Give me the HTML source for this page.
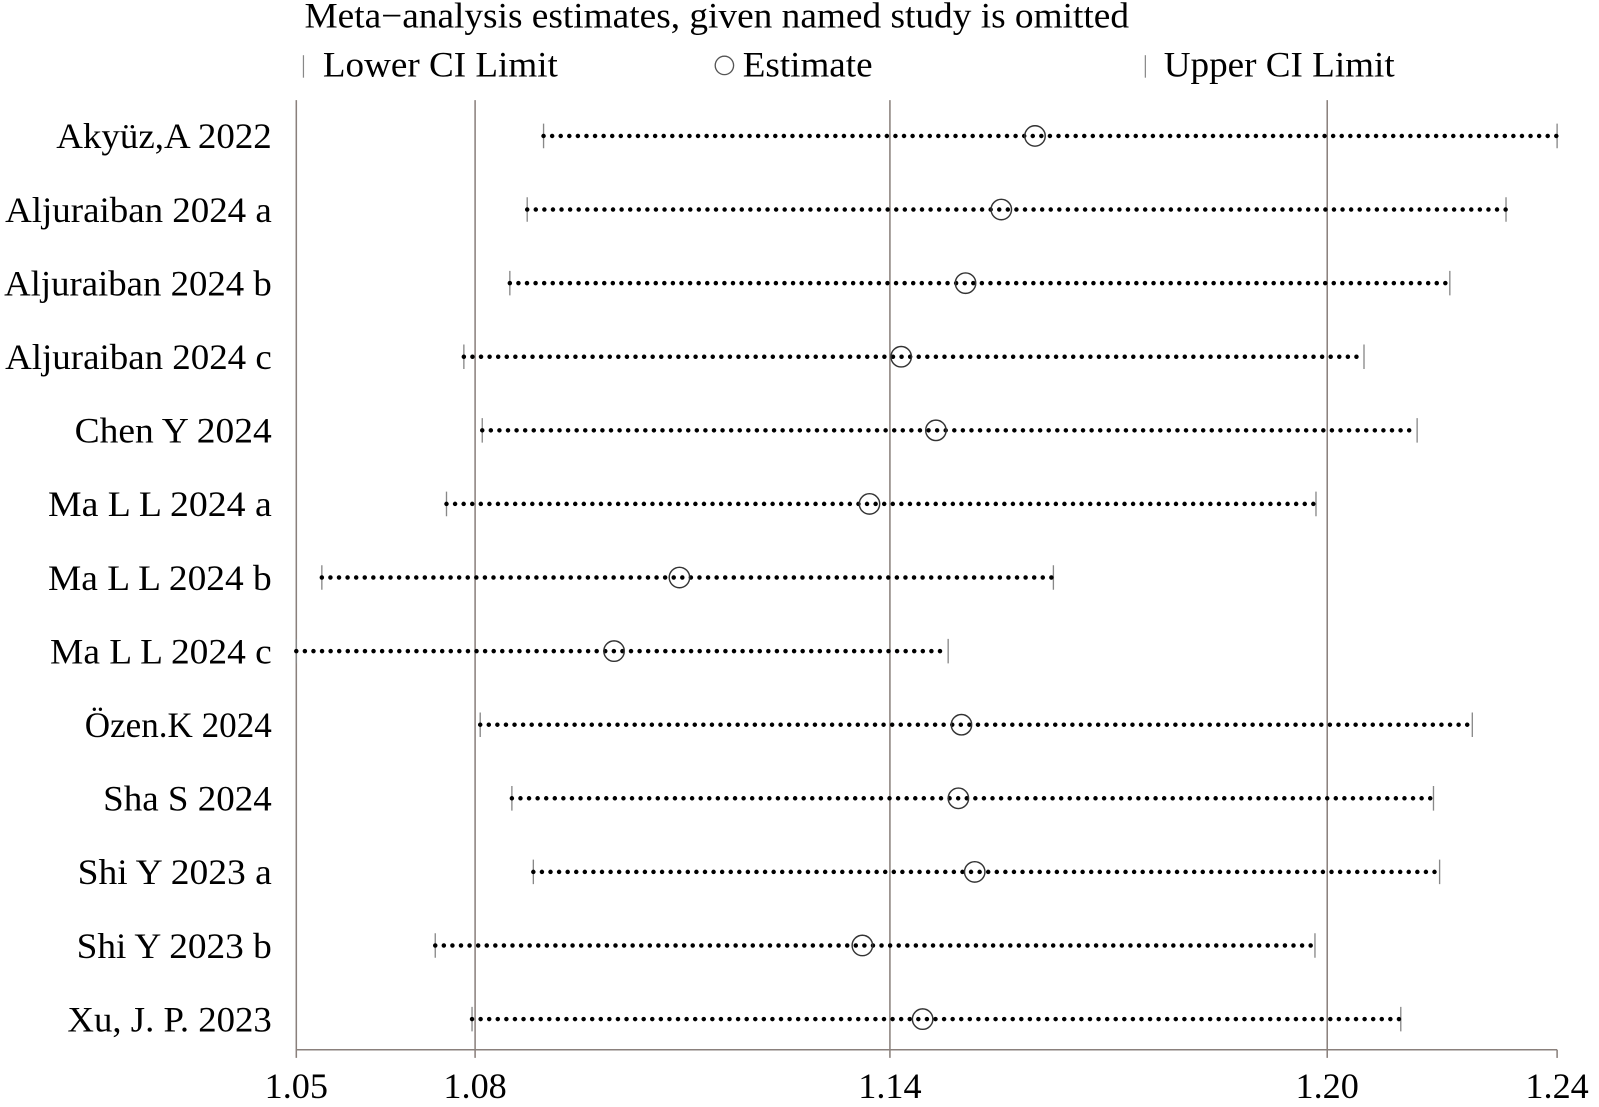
<!DOCTYPE html>
<html><head><meta charset="utf-8"><style>html,body{margin:0;padding:0;background:#fff}svg{display:block}</style></head>
<body>
<svg width="1599" height="1107" viewBox="0 0 1565 1083" preserveAspectRatio="none" xmlns="http://www.w3.org/2000/svg" font-family="Liberation Serif, serif" font-size="35" fill="#000">
<text x="298" y="27" textLength="807" lengthAdjust="spacingAndGlyphs">Meta−analysis estimates, given named study is omitted</text>
<line x1="297" y1="54" x2="297" y2="76" stroke="#888" stroke-width="1.2"/>
<text x="316" y="75" textLength="230" lengthAdjust="spacingAndGlyphs">Lower CI Limit</text>
<circle cx="709" cy="64" r="9" fill="none" stroke="#555" stroke-width="1.3"/>
<text x="727" y="75" textLength="127" lengthAdjust="spacingAndGlyphs">Estimate</text>
<line x1="1121" y1="54" x2="1121" y2="76" stroke="#888" stroke-width="1.2"/>
<text x="1139" y="75" textLength="226" lengthAdjust="spacingAndGlyphs">Upper CI Limit</text>
<g stroke="#8a807c" stroke-width="1.5">
<line x1="290" y1="98" x2="290" y2="1035"/>
<line x1="465" y1="98" x2="465" y2="1035"/>
<line x1="871" y1="98" x2="871" y2="1035"/>
<line x1="1299" y1="98" x2="1299" y2="1035"/>
<line x1="1524" y1="1027" x2="1524" y2="1035"/>
<line x1="290" y1="1027" x2="1524" y2="1027"/>
</g>
<g text-anchor="middle">
<text x="290" y="1074" textLength="62" lengthAdjust="spacingAndGlyphs">1.05</text><text x="465" y="1074" textLength="62" lengthAdjust="spacingAndGlyphs">1.08</text><text x="871" y="1074" textLength="62" lengthAdjust="spacingAndGlyphs">1.14</text><text x="1299" y="1074" textLength="62" lengthAdjust="spacingAndGlyphs">1.20</text><text x="1524" y="1074" textLength="62" lengthAdjust="spacingAndGlyphs">1.24</text>
</g>
<g text-anchor="end">
<text x="266" y="145" textLength="211" lengthAdjust="spacingAndGlyphs">Akyüz,A 2022</text>
<text x="266" y="217" textLength="261" lengthAdjust="spacingAndGlyphs">Aljuraiban 2024 a</text>
<text x="266" y="289" textLength="262" lengthAdjust="spacingAndGlyphs">Aljuraiban 2024 b</text>
<text x="266" y="361" textLength="261" lengthAdjust="spacingAndGlyphs">Aljuraiban 2024 c</text>
<text x="266" y="433" textLength="193" lengthAdjust="spacingAndGlyphs">Chen Y 2024</text>
<text x="266" y="505" textLength="219" lengthAdjust="spacingAndGlyphs">Ma L L 2024 a</text>
<text x="266" y="577" textLength="219" lengthAdjust="spacingAndGlyphs">Ma L L 2024 b</text>
<text x="266" y="649" textLength="217" lengthAdjust="spacingAndGlyphs">Ma L L 2024 c</text>
<text x="266" y="721" textLength="183" lengthAdjust="spacingAndGlyphs">Özen.K 2024</text>
<text x="266" y="793" textLength="165" lengthAdjust="spacingAndGlyphs">Sha S 2024</text>
<text x="266" y="865" textLength="190" lengthAdjust="spacingAndGlyphs">Shi Y 2023 a</text>
<text x="266" y="937" textLength="191" lengthAdjust="spacingAndGlyphs">Shi Y 2023 b</text>
<text x="266" y="1009" textLength="200" lengthAdjust="spacingAndGlyphs">Xu, J. P. 2023</text>
</g>
<g stroke="#888" stroke-width="1.3">
<path d="M532 121V145M1524 121V145M516 193V217M1474 193V217M499 265V289M1419 265V289M454 337V361M1335 337V361M472 409V433M1387 409V433M437 481V505M1288 481V505M315 553V577M1031 553V577M290 625V649M928 625V649M470 697V721M1441 697V721M501 769V793M1403 769V793M522 841V865M1409 841V865M426 913V937M1287 913V937M462 985V1009M1371 985V1009"/>
</g>
<g stroke="#000" stroke-width="4.4" stroke-linecap="round" stroke-dasharray="0 8.4" fill="none">
<line x1="532" y1="133" x2="1524" y2="133"/>
<line x1="516" y1="205" x2="1474" y2="205"/>
<line x1="499" y1="277" x2="1419" y2="277"/>
<line x1="454" y1="349" x2="1335" y2="349"/>
<line x1="472" y1="421" x2="1387" y2="421"/>
<line x1="437" y1="493" x2="1288" y2="493"/>
<line x1="315" y1="565" x2="1031" y2="565"/>
<line x1="290" y1="637" x2="928" y2="637"/>
<line x1="470" y1="709" x2="1441" y2="709"/>
<line x1="501" y1="781" x2="1403" y2="781"/>
<line x1="522" y1="853" x2="1409" y2="853"/>
<line x1="426" y1="925" x2="1287" y2="925"/>
<line x1="462" y1="997" x2="1371" y2="997"/>
</g>
<g fill="none" stroke="#333" stroke-width="1.4">
<circle cx="1013" cy="133" r="10"/><circle cx="980" cy="205" r="10"/><circle cx="945" cy="277" r="10"/><circle cx="882" cy="349" r="10"/><circle cx="916" cy="421" r="10"/><circle cx="851" cy="493" r="10"/><circle cx="665" cy="565" r="10"/><circle cx="601" cy="637" r="10"/><circle cx="941" cy="709" r="10"/><circle cx="938" cy="781" r="10"/><circle cx="954" cy="853" r="10"/><circle cx="844" cy="925" r="10"/><circle cx="903" cy="997" r="10"/>
</g>
</svg>
</body></html>
